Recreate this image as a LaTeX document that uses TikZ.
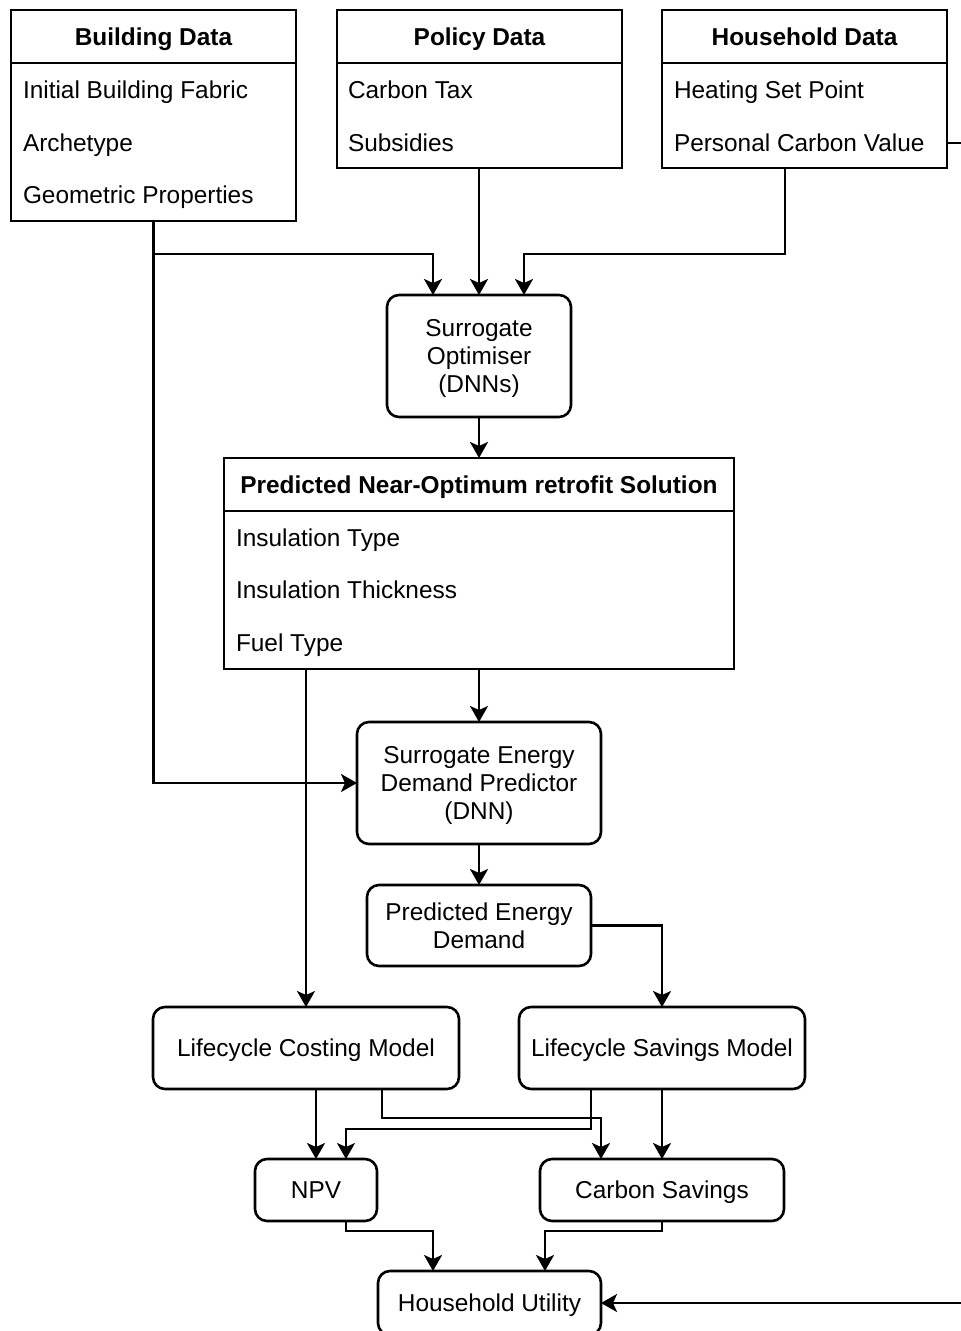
\documentclass[tikz,border=0pt]{standalone}
\usepackage{fontspec}
\setmainfont{Liberation Sans}
\usetikzlibrary{arrows.meta}
\begin{document}
\begin{tikzpicture}[x=0.5pt,y=-0.5pt,
  every node/.style={font=\fontsize{12.2}{14}\selectfont, inner sep=0pt, outer sep=0pt, text depth=0pt},
  lbox/.style={draw, line width=1.3pt, rectangle},
  rbox/.style={draw, line width=1.3pt, rectangle, rounded corners=6pt, align=center},
  hdr/.style={font=\fontsize{12.2}{14}\selectfont\bfseries},
  item/.style={anchor=west},
  hline/.style={line width=1.3pt},
  arr/.style={line width=1.2pt, -{Stealth[length=8pt,width=9pt,inset=2pt]}}]
\useasboundingbox (0,0) rectangle (960,1331);

% ---------- top list boxes ----------
\node[lbox, minimum width=142.5pt, minimum height=105.5pt] (bd) at (153.5,115.5) {};
\draw[hline] (bd.west |- 0,63) -- (bd.east |- 0,63);
\node[hdr] (bdt) at (153.5,37) {Building Data};
\node[item] (bd1) at (23,90) {Initial Building Fabric};
\node[item] (bd2) at (23,143) {Archetype};
\node[item] (bd3) at (23,195) {Geometric Properties};

\node[lbox, minimum width=142.5pt, minimum height=79pt] (pd) at (479.5,89) {};
\draw[hline] (pd.west |- 0,63) -- (pd.east |- 0,63);
\node[hdr] (pdt) at (479.5,37) {Policy Data};
\node[item] (pd1) at (348,90) {Carbon Tax};
\node[item] (pd2) at (348,143) {Subsidies};

\node[lbox, minimum width=142.5pt, minimum height=79pt] (hd) at (804.5,89) {};
\draw[hline] (hd.west |- 0,63) -- (hd.east |- 0,63);
\node[hdr] (hdt) at (804.5,37) {Household Data};
\node[item] (hd1) at (674,90) {Heating Set Point};
\node[item] (hd2) at (674,143) {Personal Carbon Value};

% ---------- surrogate optimiser ----------
\node[rbox, minimum width=92pt, minimum height=61pt] (so) at (479,356) {Surrogate\\Optimiser\\(DNNs)};

% ---------- predicted solution ----------
\node[lbox, minimum width=255pt, minimum height=105.5pt] (pred) at (479,563.5) {};
\draw[hline] (pred.west |- 0,511) -- (pred.east |- 0,511);
\node[hdr] (predt) at (479,485) {Predicted Near-Optimum retrofit Solution};
\node[item] (pr1) at (236,538) {Insulation Type};
\node[item] (pr2) at (236,590) {Insulation Thickness};
\node[item] (pr3) at (236,643) {Fuel Type};

% ---------- middle ----------
\node[rbox, minimum width=122pt, minimum height=61pt] (sedp) at (479,783) {Surrogate Energy\\Demand Predictor\\(DNN)};
\node[rbox, minimum width=112pt, minimum height=40.5pt] (ped) at (479,925.5) {Predicted Energy\\Demand};

\node[rbox, minimum width=153pt, minimum height=41pt] (lcc) at (306,1048) {Lifecycle Costing Model};
\node[rbox, minimum width=143pt, minimum height=41pt] (lcs) at (662,1048) {Lifecycle Savings Model};

\node[rbox, minimum width=61pt, minimum height=31pt] (npv) at (316,1190) {NPV};
\node[rbox, minimum width=122pt, minimum height=31pt] (cs) at (662,1190) {Carbon Savings};

\node[rbox, minimum width=111.5pt, minimum height=32pt] (hu) at (489.5,1303) {Household Utility};

% ---------- connectors ----------
\draw[arr] (bd.south) |- (sedp.west);
\draw[arr] (bd.south |- 0,254) -| ([xshift=-23pt]so.north);
\draw[arr] (pd.south -| so.north) -- (so.north);
\draw[arr] ([xshift=-9.75pt]hd.south) -- ++(0,86) -| ([xshift=22.5pt]so.north);
\draw[arr] (hd.east |- hd2) -- (964,143) |- (hu.east);

\draw[arr] (so.south) -- (pred.north);
\draw[arr] (pred.south) -- (sedp.north);
\draw[arr] (pred.south -| lcc.north) -- (lcc.north);
\draw[arr] (sedp.south) -- (ped.north);
\draw[arr] (ped.east) -| (lcs.north);

\draw[arr] (lcc.south -| npv.north) -- (npv.north);
\draw[arr] ([xshift=38pt]lcc.south) -- ++(0,29) -| ([xshift=-30.5pt]cs.north);
\draw[arr] ([xshift=-35.5pt]lcs.south) -- ++(0,40) -| ([xshift=15pt]npv.north);
\draw[arr] (lcs.south) -- (cs.north);

\draw[arr] ([xshift=15pt]npv.south) -- ++(0,10) -| ([xshift=-28.25pt]hu.north);
\draw[arr] (cs.south) -- ++(0,10) -| ([xshift=27.75pt]hu.north);
\end{tikzpicture}
\end{document}
